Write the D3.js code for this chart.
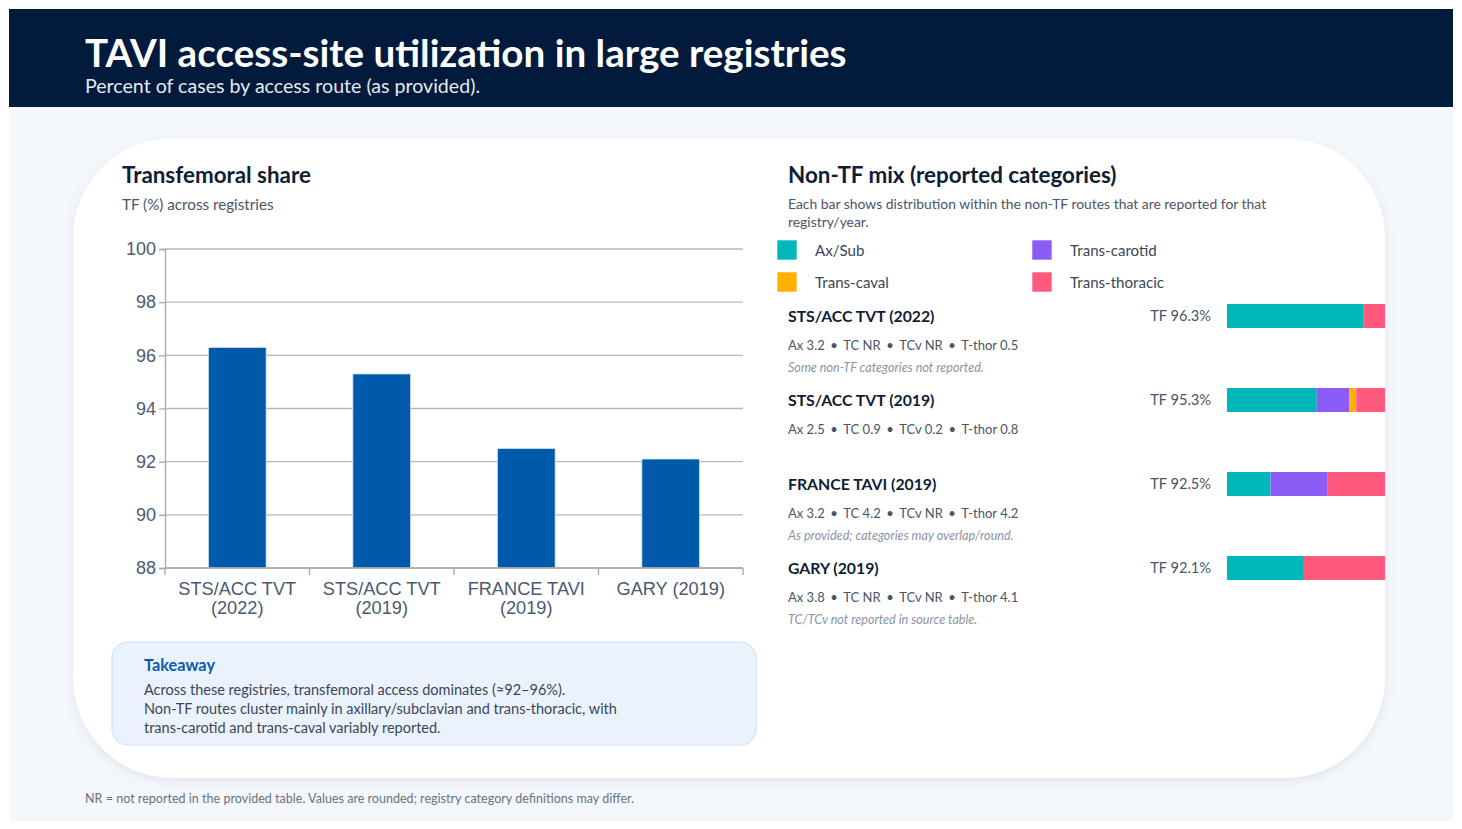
<!DOCTYPE html>
<html><head><meta charset="utf-8">
<script src="https://cdn.jsdelivr.net/npm/d3@7/dist/d3.min.js"></script>
<style>
html,body{margin:0;padding:0;background:#fff;}
svg{display:block;font-family:Lato,"Open Sans",sans-serif;}
</style></head>
<body>
<svg id="c" width="1462" height="829"></svg>
<script>
const registries = ["STS/ACC TVT (2022)", "STS/ACC TVT (2019)", "FRANCE TAVI (2019)", "GARY (2019)"];
const axisLabels = [["STS/ACC TVT", "(2022)"], ["STS/ACC TVT", "(2019)"], ["FRANCE TAVI", "(2019)"], ["GARY (2019)"]];
const tfShare = [96.3, 95.3, 92.5, 92.1];
const axSub = [3.2, 2.5, 3.2, 3.8];
const transCarotid = [null, 0.9, 4.2, null];
const transCaval = [null, 0.2, null, null];
const transThoracic = [0.5, 0.8, 4.2, 4.1];
const notes = ["Some non-TF categories not reported.", "", "As provided; categories may overlap/round.", "TC/TCv not reported in source table."];
const yTicks = [88, 90, 92, 94, 96, 98, 100];
const routeNames = ["Ax/Sub", "Trans-carotid", "Trans-caval", "Trans-thoracic"];
const routeShort = ["Ax", "TC", "TCv", "T-thor"];
const routeColors = ["#00b7b9", "#8b5cf6", "#ffb000", "#ff5a7d"];

const svg = d3.select("#c");

// backgrounds
svg.append("rect").attr("x", 9).attr("y", 107).attr("width", 1444).attr("height", 714).attr("fill", "#f4f7fb");
svg.append("rect").attr("x", 9).attr("y", 9).attr("width", 1444).attr("height", 98).attr("fill", "#021a3b");
svg.append("text").attr("x", 85).attr("y", 67).attr("fill", "#fff").attr("font-size", 38.6).attr("font-weight", 700)
  .text("TAVI access-site utilization in large registries");
svg.append("text").attr("x", 85).attr("y", 93).attr("fill", "#e3e9f2").attr("font-size", 19.6)
  .text("Percent of cases by access route (as provided).");

// card
const defs = svg.append("defs");
const f = defs.append("filter").attr("id", "sh").attr("x", "-5%").attr("y", "-5%").attr("width", "110%").attr("height", "115%");
f.append("feDropShadow").attr("dx", 0).attr("dy", 3).attr("stdDeviation", 5).attr("flood-color", "#8090a8").attr("flood-opacity", 0.18);
svg.append("rect").attr("x", 73).attr("y", 138).attr("width", 1312).attr("height", 640).attr("rx", 100).attr("ry", 100)
  .attr("fill", "#fff").attr("filter", "url(#sh)");
const clip = defs.append("clipPath").attr("id", "cardclip");
clip.append("rect").attr("x", 73).attr("y", 138).attr("width", 1312).attr("height", 640).attr("rx", 100).attr("ry", 100);

// left panel
svg.append("text").attr("x", 122).attr("y", 183).attr("fill", "#0f1d35").attr("font-size", 22.4).attr("font-weight", 700).text("Transfemoral share");
svg.append("text").attr("x", 122).attr("y", 210).attr("fill", "#4a5568").attr("font-size", 15.2).text("TF (%) across registries");

const x = d3.scaleBand().domain(registries).range([165, 743]).padding(0);
const y = d3.scaleLinear().domain([88, 100]).range([568, 249]);

const g = svg.append("g").style("font-family", "'Liberation Sans',Arial,sans-serif");
g.selectAll("line.grid").data(yTicks).join("line").attr("class", "grid")
  .attr("x1", 165).attr("x2", 743).attr("y1", d => y(d)).attr("y2", d => y(d))
  .attr("stroke", "#b8b8b8").attr("stroke-width", 1.3);

g.selectAll("rect.bar").data(registries).join("rect").attr("class", "bar")
  .attr("x", d => x(d) + x.bandwidth() * 0.3).attr("width", x.bandwidth() * 0.4)
  .attr("y", (d, i) => y(tfShare[i])).attr("height", (d, i) => y(88) - y(tfShare[i]))
  .attr("fill", "#005aab").attr("stroke", "#dbe8f6").attr("stroke-width", 0.8);

const yAxis = g.append("g").attr("transform", "translate(165,0)")
  .call(d3.axisLeft(y).tickValues(yTicks).tickSize(6).tickPadding(3).tickFormat(d3.format("d")));
yAxis.select(".domain").attr("stroke", "#a8a8a8").attr("stroke-width", 1.3);
yAxis.selectAll(".tick line").attr("stroke", "#a8a8a8").attr("stroke-width", 1.3);
yAxis.selectAll(".tick text").attr("fill", "#4a5a72").attr("font-size", 18).attr("font-family", "'Liberation Sans',Arial,sans-serif");

g.append("line").attr("x1", 165).attr("x2", 743).attr("y1", y(88)).attr("y2", y(88)).attr("stroke", "#a8a8a8").attr("stroke-width", 1.3);
g.selectAll("line.xt").data(d3.range(registries.length + 1)).join("line").attr("class", "xt")
  .attr("x1", i => 165 + i * x.step()).attr("x2", i => 165 + i * x.step())
  .attr("y1", y(88)).attr("y2", y(88) + 7).attr("stroke", "#a8a8a8").attr("stroke-width", 1.3);

const xl = g.selectAll("text.xl").data(registries).join("text").attr("class", "xl")
  .attr("text-anchor", "middle").attr("fill", "#4a5a72").attr("font-size", 18.2);
xl.each(function (d, i) {
  const t = d3.select(this);
  axisLabels[i].forEach((line, k) => {
    t.append("tspan").attr("x", x(d) + x.bandwidth() / 2).attr("y", 595 + k * 19).text(line);
  });
});

// takeaway box
svg.append("rect").attr("x", 112).attr("y", 642).attr("width", 644).attr("height", 103).attr("rx", 16)
  .attr("fill", "#eaf3fd").attr("stroke", "#cde2f8").attr("stroke-width", 1.2);
svg.append("text").attr("x", 144).attr("y", 671).attr("fill", "#0b5cad").attr("font-size", 16.3).attr("font-weight", 700).text("Takeaway");
const takeLines = ["Across these registries, transfemoral access dominates (≈92–96%).",
  "Non-TF routes cluster mainly in axillary/subclavian and trans-thoracic, with",
  "trans-carotid and trans-caval variably reported."];
svg.append("g").selectAll("text").data(takeLines).join("text")
  .attr("x", 144).attr("y", (d, i) => 695 + i * 19).attr("fill", "#3b4658").attr("font-size", 14.5).text(d => d);

// right panel
svg.append("text").attr("x", 788).attr("y", 183).attr("fill", "#0f1d35").attr("font-size", 22.4).attr("font-weight", 700).text("Non-TF mix (reported categories)");
const descLines = ["Each bar shows distribution within the non-TF routes that are reported for that", "registry/year."];
svg.append("g").selectAll("text").data(descLines).join("text")
  .attr("x", 788).attr("y", (d, i) => 209 + i * 18).attr("fill", "#4a5568").attr("font-size", 13.9).text(d => d);

// legend
const legendOrder = [0, 1, 2, 3];
const lg = svg.append("g").selectAll("g").data(legendOrder).join("g")
  .attr("transform", (d, i) => `translate(${777 + (i % 2) * 255},${240 + Math.floor(i / 2) * 32})`);
lg.append("rect").attr("width", 20).attr("height", 20).attr("fill", d => routeColors[d]).attr("stroke", "#fff").attr("stroke-width", 0.6);
lg.append("text").attr("x", 38).attr("y", 16).attr("fill", "#3b4658").attr("font-size", 15.1).text(d => routeNames[d]);

const rowTop = d3.scaleLinear().domain([0, 1]).range([304, 388]);
const mixX = d3.scaleLinear().domain([0, 1]).range([1227, 1385]);
const fmt = v => v == null ? "NR" : d3.format(".1f")(v);

const rows = svg.append("g").selectAll("g").data(registries).join("g")
  .attr("transform", (d, i) => `translate(0,${rowTop(i)})`);
rows.append("text").attr("x", 788).attr("y", 18).attr("fill", "#0f1d35").attr("font-size", 15.8).attr("font-weight", 700).text(d => d);
rows.append("text").attr("x", 1211).attr("y", 17).attr("text-anchor", "end").attr("fill", "#4a5568").attr("font-size", 14.6)
  .text((d, i) => "TF " + d3.format(".1f")(tfShare[i]) + "%");
rows.append("text").attr("x", 788).attr("y", 46).attr("fill", "#4a5568").attr("font-size", 13)
  .each(function (d, i) {
    const t = d3.select(this);
    const vals = [axSub[i], transCarotid[i], transCaval[i], transThoracic[i]];
    vals.forEach((v, k) => {
      if (k > 0) t.append("tspan").attr("dx", 5.5).text("•");
      t.append("tspan").attr("dx", k > 0 ? 5.5 : 0).text(routeShort[k] + " " + fmt(v));
    });
  });
rows.append("text").attr("x", 788).attr("y", 68).attr("fill", "#8a94a6").attr("font-size", 12.6).attr("font-style", "italic")
  .text((d, i) => notes[i]);

const barsG = svg.append("g").attr("clip-path", "url(#cardclip)");
registries.forEach((r, i) => {
  const vals = [axSub[i], transCarotid[i], transCaval[i], transThoracic[i]].map(v => v == null ? 0 : v);
  const tot = d3.sum(vals);
  let acc = 0;
  const segs = vals.map((v, k) => { const s = { k, x0: acc / tot, x1: (acc + v) / tot }; acc += v; return s; }).filter(s => s.x1 > s.x0);
  barsG.selectAll(null).data(segs).join("rect")
    .attr("x", s => mixX(s.x0)).attr("width", s => mixX(s.x1) - mixX(s.x0))
    .attr("y", rowTop(i)).attr("height", 24).attr("fill", s => routeColors[s.k]);
});

// footnote
svg.append("text").attr("x", 85).attr("y", 803).attr("fill", "#6b7280").attr("font-size", 12.55)
  .text("NR = not reported in the provided table. Values are rounded; registry category definitions may differ.");
</script>
</body></html>
